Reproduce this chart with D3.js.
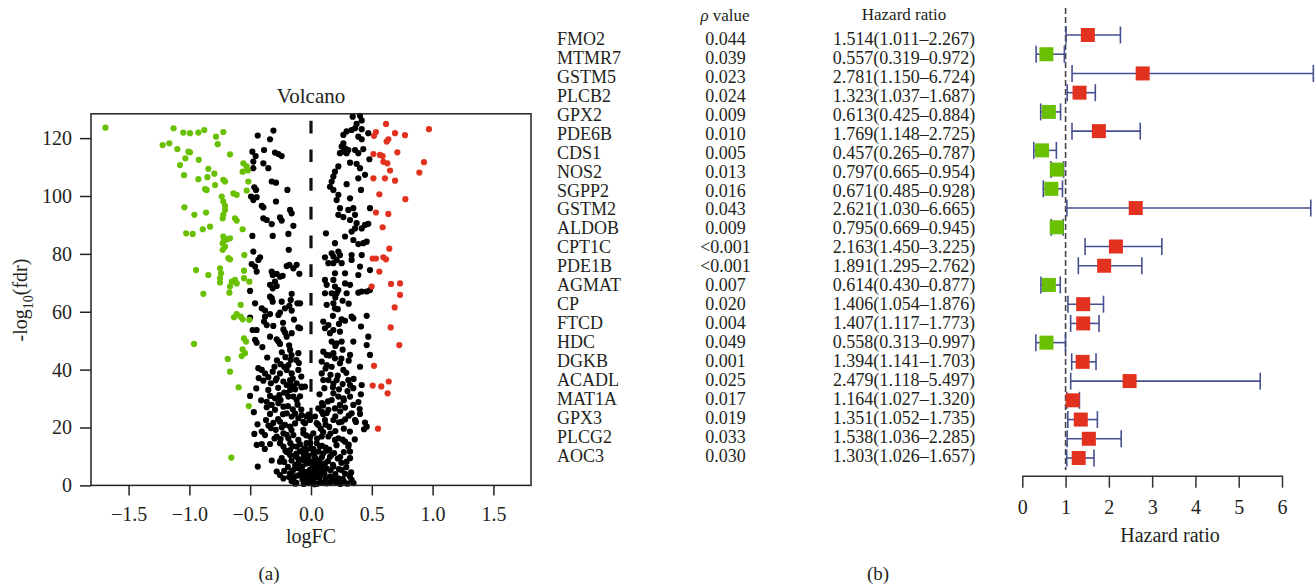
<!DOCTYPE html>
<html>
<head>
<meta charset="utf-8">
<script src="https://cdn.jsdelivr.net/npm/d3@7"></script>
<style>
body { margin: 0; background: #fff; }
text { font-family: "Liberation Serif", "Times New Roman", serif; fill: #231f20; }
</style>
</head>
<body>
<script>
// volcano points: [logFC, -log10(fdr)]
const downGenes = [
[-1.69,123.6],[-1.13,123.4],[-1.05,121.9],[-0.995,121.7],[-0.926,121.9],[-0.877,122.8],[-0.781,120.5],[-0.721,122.1],
[-0.767,117.9],[-1.22,117.6],[-1.165,118.2],[-1.099,116.2],[-1.008,115.3],[-0.995,115.1],[-1.033,113.0],[-0.923,112.5],
[-1.077,110.7],[-1.044,107.2],[-0.844,109.4],[-0.795,107.7],[-0.926,105.8],[-0.852,106.5],[-0.666,114.4],[-0.556,111.3],
[-0.529,110.2],[-0.562,108.4],[-0.52,108.8],[-0.721,105.6],[-0.707,105.0],[-0.789,103.8],[-0.515,105.0],[-0.871,102.4],
[-0.858,102.1],[-0.638,100.9],[-0.611,100.4],[-0.529,101.9],[-0.734,99.8],[-0.721,98.1],[-0.707,96.6],[-0.707,95.2],
[-0.721,93.5],[-0.726,92.3],[-1.041,96.1],[-0.959,93.5],[-0.863,94.3],[-0.625,92.3],[-0.611,91.5],[-0.83,89.4],
[-0.89,88.5],[-1.027,87.1],[-0.973,86.9],[-0.562,88.5],[-0.721,86.0],[-0.715,84.8],[-0.726,83.7],[-0.693,85.0],
[-0.666,85.4],[-0.707,82.5],[-0.726,81.4],[-0.679,78.5],[-0.666,78.1],[-0.548,79.6],[-0.945,74.4],[-0.844,72.7],
[-0.748,75.0],[-0.74,73.3],[-0.748,71.6],[-0.551,74.2],[-0.748,70.1],[-0.652,70.4],[-0.625,71.0],[-0.611,69.8],
[-0.666,68.7],[-0.671,66.6],[-0.551,71.6],[-0.507,70.4],[-0.885,66.2],[-0.578,62.4],[-0.633,58.1],[-0.611,59.2],
[-0.578,58.3],[-0.562,57.4],[-0.507,57.2],[-0.551,50.8],[-0.534,49.7],[-0.562,47.0],[-0.543,45.7],[-0.57,44.7],
[-0.962,48.9],[-0.685,43.7],[-0.666,39.3],[-0.595,33.9],[-0.512,27.4],[-0.655,9.6]
];

const upGenes = [
[0.617,124.9],[0.534,122.1],[0.518,120.8],[0.691,121.7],[0.773,121.0],[0.636,119.6],[0.622,118.8],[0.97,123.1],
[0.71,115.1],[0.513,114.5],[0.567,114.2],[0.589,113.8],[0.595,111.8],[0.628,111.3],[0.929,111.7],[0.891,108.1],
[0.65,108.8],[0.513,106.1],[0.608,106.1],[0.691,105.3],[0.562,100.6],[0.776,98.9],[0.534,94.3],[0.636,93.8],
[0.589,89.2],[0.644,81.8],[0.507,78.4],[0.534,78.4],[0.595,78.8],[0.617,78.1],[0.562,73.9],[0.499,68.7],
[0.658,69.6],[0.732,69.8],[0.732,65.8],[0.688,61.5],[0.655,54.6],[0.726,48.5],[0.518,41.3],[0.507,34.5],
[0.578,34.2],[0.639,35.9],[0.63,31.8],[0.551,19.6]
];

const otherGenes = [
[-0.438,120.9],[-0.309,122.6],[-0.337,119.6],[-0.482,115.3],[-0.455,113.8],[-0.386,115.9],[-0.296,115.0],[-0.268,114.5],
[-0.241,113.8],[-0.474,111.9],[-0.392,111.3],[-0.351,109.6],[-0.474,109.6],[-0.323,105.0],[-0.288,104.6],[-0.466,103.0],
[-0.452,102.1],[-0.194,102.1],[-0.493,99.8],[-0.474,98.6],[-0.447,99.6],[-0.405,96.6],[-0.392,96.1],[-0.392,92.3],
[-0.364,91.7],[-0.323,90.3],[-0.288,98.1],[-0.172,95.2],[-0.159,94.0],[-0.255,92.6],[-0.241,91.5],[-0.315,86.2],
[-0.482,86.2],[-0.186,86.9],[-0.145,89.7],[-0.183,81.4],[-0.474,80.8],[-0.488,76.5],[-0.46,75.6],[-0.433,77.9],
[-0.419,78.8],[-0.447,73.9],[-0.323,73.9],[-0.315,72.7],[-0.282,73.1],[-0.255,72.1],[-0.233,72.4],[-0.296,70.4],
[-0.337,69.3],[-0.315,68.1],[-0.282,68.9],[-0.2,75.8],[-0.178,76.2],[-0.118,76.2],[-0.096,73.1],[-0.145,75.0],
[-0.501,67.2],[-0.337,65.2],[-0.159,66.2],
[-0.46,62.9],[-0.405,61.2],[-0.378,60.4],[-0.323,64.7],[-0.315,63.5],[-0.241,63.5],[-0.214,61.2],[-0.178,62.0],
[-0.167,64.1],[-0.112,62.9],[-0.159,60.4],[-0.378,58.3],[-0.337,59.2],[-0.268,58.9],[-0.255,59.7],[-0.501,58.0],
[-0.48,53.7],[-0.447,53.7],[-0.386,56.6],[-0.364,55.4],[-0.227,53.9],[-0.214,52.8],[-0.159,52.6],[-0.104,54.6],
[-0.2,51.4],[-0.337,51.4],[-0.282,50.5],[-0.268,49.7],[-0.255,48.9],[-0.46,50.3],[-0.447,49.3],[-0.172,46.8],
[-0.104,45.7],[-0.167,43.3],[-0.186,41.6],[-0.2,39.9],[-0.159,38.7],[-0.172,36.4],[-0.104,39.9],[-0.433,40.5],
[-0.405,39.9],[-0.378,38.7],[-0.351,37.4],[-0.392,36.2],[-0.315,39.3],[-0.282,37.0],[-0.255,38.7],[-0.227,35.9],
[-0.2,34.7],[-0.172,33.0],[-0.145,34.1],[-0.118,35.3],[-0.077,33.9],[-0.145,30.7],[-0.118,29.5],[-0.186,30.7],
[-0.501,30.9],[-0.351,33.0],[-0.337,30.9],[-0.296,30.1],[-0.364,28.9],[-0.323,27.8],[-0.268,28.4],[-0.227,27.2],
[-0.296,26.1],[-0.364,27.0],[-0.337,24.7],[-0.37,22.6],[-0.2,24.9],[-0.159,23.8],[-0.255,22.0],[-0.214,20.9],
[-0.172,20.3],[-0.131,21.4],[-0.104,23.2],[-0.077,24.3],[-0.063,22.0],[-0.036,23.8],[-0.466,17.8],[-0.405,18.6],
[-0.378,17.4],[-0.447,14.0],[-0.405,14.3],[-0.337,14.3],[-0.282,16.9],[-0.255,14.6],[-0.227,18.0],[-0.186,16.3],
[-0.145,17.4],[-0.104,15.7],[-0.063,18.0],[-0.036,14.6],[-0.008,16.8],[-0.227,13.4],[-0.172,12.2],[-0.118,13.4],
[-0.063,12.2],[-0.438,6.5],[-0.323,8.6],[-0.241,9.4],[-0.255,8.2],[-0.282,4.8],[-0.255,3.6],[-0.227,2.4],
[-0.172,4.2],[-0.131,5.9],[-0.104,7.6],[-0.063,9.4],[-0.036,7.6],[-0.008,5.3],[-0.09,3.6],[-0.049,2.4],
[-0.145,1.9],[-0.008,1.9],[-0.118,9.9],[-0.172,10.5],[-0.063,11.1],
[0.343,127.4],[0.403,127.7],[0.417,126.1],[0.375,124.9],[0.334,122.8],[0.293,122.3],[0.266,121.1],[0.362,123.4],
[0.417,123.1],[0.471,121.7],[0.389,120.5],[0.417,119.6],[0.266,118.2],[0.252,117.1],[0.28,116.5],[0.266,115.3],
[0.238,114.8],[0.293,114.8],[0.307,115.9],[0.362,115.9],[0.389,114.8],[0.43,116.2],[0.321,111.5],[0.375,111.1],
[0.403,109.6],[0.48,112.7],[0.444,107.3],[0.389,106.1],[0.225,110.2],[0.197,108.4],[0.184,106.7],[0.17,105.0],
[0.156,103.2],[0.184,102.1],[0.293,104.1],[0.411,102.1],[0.321,99.2],[0.225,100.4],[0.211,98.6],[0.238,95.8],
[0.225,93.5],[0.266,92.7],[0.307,95.2],[0.348,95.8],[0.362,93.5],[0.321,91.7],[0.375,90.6],[0.444,90.0],
[0.471,90.4],[0.485,95.8],[0.334,87.7],[0.362,88.8],[0.417,88.8],[0.28,86.0],[0.348,84.8],[0.389,83.4],
[0.43,83.7],[0.458,84.2],[0.123,87.1],[0.197,83.7],[0.17,80.2],[0.184,79.1],[0.211,77.9],[0.225,80.8],
[0.238,79.6],[0.252,76.8],[0.184,76.8],[0.115,78.8],[0.143,76.8],[0.334,79.6],[0.417,79.6],[0.334,77.9],
[0.403,75.6],[0.485,74.4],[0.28,73.3],[0.389,72.7],[0.197,73.3],[0.184,71.0],[0.115,71.0],[0.129,69.3],
[0.197,68.7],[0.225,67.5],[0.28,69.8],[0.321,69.3],[0.211,66.4],[0.293,66.4],[0.389,66.6],[0.417,67.0],
[0.485,67.5],[0.115,66.4],[0.17,66.4],[0.458,67.0],
[0.129,62.4],[0.184,62.9],[0.197,61.2],[0.334,58.3],[0.348,57.7],[0.458,58.6],[0.252,57.4],[0.101,56.6],
[0.143,55.4],[0.115,54.3],[0.184,53.7],[0.238,53.1],[0.156,52.6],[0.411,54.9],[-0.09,62.9],[-0.09,54.3],
[0.17,49.7],[0.211,49.1],[0.252,49.7],[0.348,49.7],[0.458,48.5],[0.471,51.4],[0.101,46.2],[0.129,45.1],
[0.184,45.7],[0.197,43.9],[0.321,45.1],[0.485,45.1],[0.088,42.8],[0.129,41.6],[0.17,41.0],[0.238,42.2],
[0.266,39.9],[0.403,41.0],[0.088,38.7],[0.101,36.4],[0.143,36.4],[0.184,35.2],[0.211,36.4],[0.307,36.4],
[0.321,34.7],[0.417,34.7],[0.348,33.6],[-0.077,34.1],[-0.05,34.1],[0.184,31.8],[0.225,30.7],[0.17,29.5],
[0.266,30.1],[0.321,30.7],[0.348,27.8],[0.238,27.8],[0.197,26.6],[0.143,26.1],[0.088,25.5],[0.06,26.6],
[0.033,23.8],[-0.008,22.6],[-0.049,21.5],[0.047,21.5],[0.115,22.6],[0.184,22.6],[0.252,22.0],[0.334,24.9],
[0.403,24.7],[0.362,22.6],[0.444,21.7],[0.458,20.3],[0.436,19.4],[-0.063,19.2],[0.019,18.0],[0.088,16.9],
[0.143,16.9],[0.197,15.7],[0.225,16.3],[0.28,15.1],[0.307,13.4],[0.321,11.7],[0.321,9.4],[0.293,8.2],
[0.334,1.9],[0.252,5.3],[0.184,6.5],[0.156,9.9],[0.101,11.1],[0.074,13.4],[0.047,14.6],[-0.008,14.6],
[-0.036,12.2],[0.019,11.1],[-0.063,8.8],[0.033,7.6],[0.115,7.6],[-0.008,5.3],[0.074,4.8],[0.156,3.0],
[0.225,2.4],[-0.049,3.0],[0.019,1.9],[-0.077,5.3],
[-0.02,0.8],[0.01,1.2],[0.05,0.6],[0.09,1.0],[-0.06,0.5],[0.13,0.7],[0.17,1.3],[0.21,0.9],[0.27,1.4],[0.3,0.6],
[0.35,0.8],[-0.12,0.9],[-0.16,1.5],[0.04,3.2],[0.07,2.6],[0.11,4.1],[-0.03,3.8],[0.02,5.9],[0.06,6.8],[0.1,5.2],
[0.14,8.4],[0.18,7.1],[0.24,9.8],[0.27,11.5],[0.29,6.3],[0.33,4.5],[-0.1,6.0],[-0.05,10.5],[0.0,12.8],[0.04,9.2],
[0.09,13.7],[0.13,12.0],[0.17,10.6],[0.21,13.9],[0.26,15.8],[0.31,14.1],[0.05,16.2],[0.1,18.4],[-0.04,17.3],[0.15,20.2],
[0.2,18.8],[0.23,21.8],[0.27,19.6],[0.06,20.9],[-0.08,26.2],[-0.02,24.5],[0.1,27.6],[0.13,25.0],[0.28,26.9],[0.31,24.1],
[0.37,21.9],[0.39,28.8],[0.41,31.5],[0.27,29.4],[0.23,33.2],[0.35,36.8],[0.29,38.9],[0.16,38.2],[0.12,40.4],[0.2,48.2],
[0.26,46.9],[0.31,43.1],[0.23,55.8],[0.28,56.9],[0.22,60.9],[0.26,63.8],[0.31,62.8],[0.18,58.6],[0.2,64.9],
[-0.08,4.4],[-0.14,3.0],[-0.19,6.4],[-0.22,8.1],[-0.09,11.8],[-0.13,10.3],[-0.17,14.6],[-0.21,12.0],[-0.25,16.0],[-0.29,19.2],
[-0.31,21.6],[-0.23,24.6],[-0.19,27.4],[-0.15,26.3],[-0.11,27.9],[-0.09,30.8],[-0.13,33.2],[-0.17,35.0],[-0.22,32.1],[-0.26,31.2],
[-0.29,36.3],[-0.25,41.9],[-0.21,44.3],[-0.18,48.4],[-0.14,57.3],[-0.23,56.2],[-0.31,55.1],[-0.4,47.8],[-0.36,44.2],[-0.43,37.1],
[-0.45,33.5],[-0.47,25.3],[-0.41,29.4],[-0.44,21.1],[-0.38,12.6],[-0.35,20.7],[-0.08,37.6],[-0.1,42.3],
[-0.15,13.5],[-0.12,11.0],[-0.09,14.2],[-0.05,12.9],[-0.02,10.2],[0.02,12.5],[0.06,11.7],[0.09,9.8],[0.12,13.1],[0.15,12.4],
[0.19,11.2],[0.22,9.3],[0.25,7.8],[0.28,4.0],[-0.16,8.6],[-0.13,7.1],[-0.1,8.9],[-0.07,6.6],[-0.04,9.0],[-0.01,7.9],
[0.03,9.9],[0.07,8.6],[0.1,7.3],[0.13,5.8],[0.16,5.2],[0.2,3.9],[0.23,5.6],[0.26,2.2],[-0.18,2.9],[-0.15,5.1],
[-0.11,3.4],[-0.07,2.0],[-0.04,4.6],[-0.01,3.1],[0.02,4.2],[0.06,2.9],[0.08,5.6],[0.12,2.3],[0.15,1.0],[0.19,2.5],
[-0.03,1.2],[0.03,0.4],[0.08,3.8],[-0.13,0.6],[0.32,3.1],[0.24,0.5],[-0.2,11.5],[-0.22,5.0],[0.0,8.3],[0.05,4.9],
[0.08,19.6],[0.12,21.0],[0.16,17.9],[0.2,23.9],[0.24,25.6],[0.28,22.8],[0.1,24.6],[0.14,29.0],[0.18,33.9],[0.22,37.9],
[0.26,35.0],[0.3,32.6],[0.07,31.5],[0.11,33.6],[0.09,28.4],[0.32,18.6],[0.36,15.9],[0.4,26.4],[0.25,43.8],[0.15,44.9],
[-0.33,19.8],[-0.3,16.2],[-0.27,22.9],[-0.24,20.1],[-0.2,17.5],[-0.16,19.1],[-0.13,24.8],[-0.25,29.5],[-0.2,31.9],[-0.15,36.9],
[-0.27,33.7],[-0.33,35.3],[-0.3,41.0],[-0.22,40.9],[-0.12,43.3],[-0.16,45.0],[-0.24,46.0],[-0.28,43.2]
];

const logFCTicks = [-1.5, -1.0, -0.5, 0, 0.5, 1.0, 1.5];
const fdrTicks = [0, 20, 40, 60, 80, 100, 120];

// forest plot data
const genes = ["FMO2","MTMR7","GSTM5","PLCB2","GPX2","PDE6B","CDS1","NOS2","SGPP2","GSTM2","ALDOB","CPT1C",
  "PDE1B","AGMAT","CP","FTCD","HDC","DGKB","ACADL","MAT1A","GPX3","PLCG2","AOC3"];
const pValues = ["0.044","0.039","0.023","0.024","0.009","0.010","0.005","0.013","0.016","0.043","0.009","<0.001",
  "<0.001","0.007","0.020","0.004","0.049","0.001","0.025","0.017","0.019","0.033","0.030"];
const hazard = [1.514,0.557,2.781,1.323,0.613,1.769,0.457,0.797,0.671,2.621,0.795,2.163,
  1.891,0.614,1.406,1.407,0.558,1.394,2.479,1.164,1.351,1.538,1.303];
const lower = [1.011,0.319,1.150,1.037,0.425,1.148,0.265,0.665,0.485,1.030,0.669,1.450,
  1.295,0.430,1.054,1.117,0.313,1.141,1.118,1.027,1.052,1.036,1.026];
const upper = [2.267,0.972,6.724,1.687,0.884,2.725,0.787,0.954,0.928,6.665,0.945,3.225,
  2.762,0.877,1.876,1.773,0.997,1.703,5.497,1.320,1.735,2.285,1.657];
const hrTicks = [0, 1, 2, 3, 4, 5, 6];

const green = "#69c000";
const red = "#e2321f";
const ink = "#231f20";

const svg = d3.select("body").append("svg")
  .attr("width", 1316)
  .attr("height", 586);

// ---------- (a) volcano ----------
const x = d3.scaleLinear().domain([-1.809, 1.809]).range([91, 531]);
const y = d3.scaleLinear().domain([0, 128.4]).range([485.4, 113.8]);

svg.append("text")
  .attr("x", x(0)).attr("y", 103)
  .attr("text-anchor", "middle")
  .style("font-size", "21px")
  .text("Volcano");

svg.append("line")
  .attr("x1", x(0)).attr("x2", x(0))
  .attr("y1", y.range()[1]).attr("y2", y.range()[0])
  .attr("stroke", "#111")
  .attr("stroke-width", 3.2)
  .attr("stroke-dasharray", "12.7 16")
  .attr("stroke-dashoffset", 21.8);

const dots = [
  { pts: otherGenes, color: "#000" },
  { pts: downGenes, color: green },
  { pts: upGenes, color: red },
];
dots.forEach((grp) => {
  svg.append("g")
    .selectAll("circle")
    .data(grp.pts)
    .join("circle")
    .attr("cx", (d) => x(d[0]))
    .attr("cy", (d) => y(d[1]))
    .attr("r", 3.1)
    .attr("fill", grp.color);
});

svg.append("rect")
  .attr("x", 91).attr("y", y.range()[1])
  .attr("width", 440).attr("height", y.range()[0] - y.range()[1])
  .attr("fill", "none")
  .attr("stroke", "#222")
  .attr("stroke-width", 1.5);

const yAxis = svg.append("g")
  .attr("transform", "translate(91,0)")
  .call(d3.axisLeft(y).tickValues(fdrTicks).tickSize(11).tickPadding(8));
const xAxis = svg.append("g")
  .attr("transform", `translate(0,${y(0)})`)
  .call(d3.axisBottom(x).tickValues(logFCTicks).tickSize(10).tickPadding(11).tickFormat(d3.format(".1f")));

[yAxis, xAxis].forEach((g) => {
  g.select(".domain").remove();
  g.selectAll("line").attr("stroke", "#222").attr("stroke-width", 1.5);
  g.selectAll("text")
    .style("font-size", "20px")
    .attr("fill", ink);
  g.attr("font-family", null).attr("font-size", null);
});

svg.append("text")
  .attr("x", x(0)).attr("y", 543)
  .attr("text-anchor", "middle")
  .style("font-size", "20px")
  .text("logFC");

const ylab = svg.append("text")
  .attr("transform", "translate(27,300) rotate(-90)")
  .attr("text-anchor", "middle")
  .style("font-size", "20px");
ylab.append("tspan").text("-log");
ylab.append("tspan").attr("dy", 6).style("font-size", "14px").text("10");
ylab.append("tspan").attr("dy", -6).text("(fdr)");

svg.append("text")
  .attr("x", 269).attr("y", 580)
  .attr("text-anchor", "middle")
  .style("font-size", "19px")
  .text("(a)");

// ---------- (b) forest ----------
const fx = d3.scaleLinear().domain([0, 6]).range([1022.3, 1282]);
const rowY = d3.scalePoint().domain(genes).range([35, 458]);
const textY = d3.scalePoint().domain(genes).range([45, 461.7]);
const f3 = d3.format(".3f");

const hdr = svg.append("text")
  .attr("x", 725).attr("y", 21)
  .attr("text-anchor", "middle")
  .style("font-size", "17px");
hdr.append("tspan").style("font-style", "italic").text("ρ");
hdr.append("tspan").text(" value");

svg.append("text")
  .attr("x", 904).attr("y", 20)
  .attr("text-anchor", "middle")
  .style("font-size", "17px")
  .text("Hazard ratio");

const rows = svg.append("g")
  .selectAll("g")
  .data(genes)
  .join("g")
  .attr("transform", (d) => `translate(0,${textY(d)})`)
  .style("font-size", "18px");

rows.append("text").attr("x", 557).text((d) => d);
rows.append("text").attr("x", 725.5).attr("text-anchor", "middle").text((d, i) => pValues[i]);
rows.append("text").attr("x", 904).attr("text-anchor", "middle")
  .text((d, i) => `${f3(hazard[i])}(${f3(lower[i])}–${f3(upper[i])})`);

svg.append("line")
  .attr("x1", fx(1)).attr("x2", fx(1))
  .attr("y1", 8).attr("y2", 470)
  .attr("stroke", "#444")
  .attr("stroke-width", 1.6)
  .attr("stroke-dasharray", "6 3");

const ci = svg.append("g")
  .attr("stroke", "#46508f")
  .attr("stroke-width", 1.6)
  .selectAll("g")
  .data(genes)
  .join("g");

ci.append("line")
  .attr("x1", (d, i) => fx(lower[i])).attr("x2", (d, i) => fx(upper[i]))
  .attr("y1", (d) => rowY(d)).attr("y2", (d) => rowY(d));
ci.append("line")
  .attr("x1", (d, i) => fx(lower[i])).attr("x2", (d, i) => fx(lower[i]))
  .attr("y1", (d) => rowY(d) - 8.5).attr("y2", (d) => rowY(d) + 8.5);
ci.append("line")
  .attr("x1", (d, i) => fx(upper[i])).attr("x2", (d, i) => fx(upper[i]))
  .attr("y1", (d) => rowY(d) - 8.5).attr("y2", (d) => rowY(d) + 8.5);

svg.append("g")
  .selectAll("rect")
  .data(genes)
  .join("rect")
  .attr("x", (d, i) => fx(hazard[i]) - 7)
  .attr("y", (d) => rowY(d) - 7)
  .attr("width", 14)
  .attr("height", 14)
  .attr("fill", (d, i) => (hazard[i] > 1 ? red : green));

const hrAxis = svg.append("g")
  .attr("transform", "translate(0,475.7)")
  .call(d3.axisBottom(fx).tickValues(hrTicks).tickSize(12).tickSizeOuter(0).tickPadding(12).tickFormat(d3.format("d")));
hrAxis.attr("font-family", null).attr("font-size", null);
hrAxis.selectAll("line, path").attr("stroke", "#333").attr("stroke-width", 1.5);
hrAxis.selectAll("text").style("font-size", "20px").attr("fill", ink);

svg.append("text")
  .attr("x", 1170).attr("y", 542)
  .attr("text-anchor", "middle")
  .style("font-size", "20px")
  .text("Hazard ratio");

svg.append("text")
  .attr("x", 878).attr("y", 580)
  .attr("text-anchor", "middle")
  .style("font-size", "19px")
  .text("(b)");
</script>
</body>
</html>
